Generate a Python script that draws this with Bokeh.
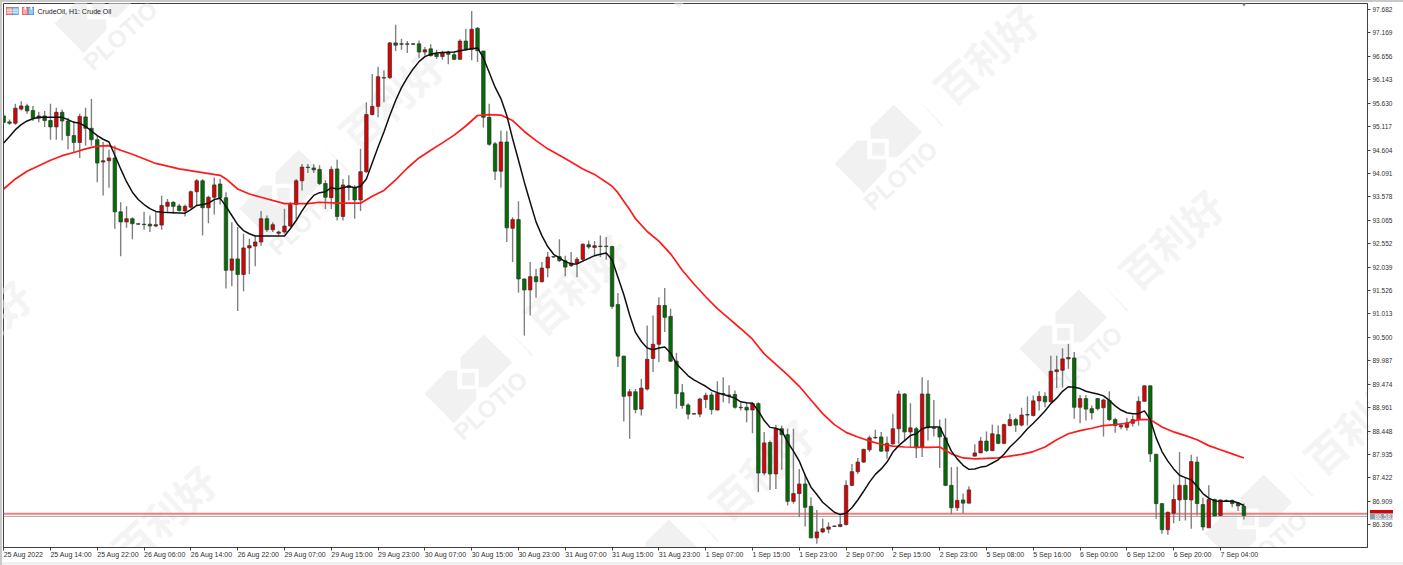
from bokeh.plotting import figure
from bokeh.models import (ColumnDataSource, FixedTicker, NumeralTickFormatter, Span, Label, LinearAxis,
                          PolyAnnotation, Range1d, InlineStyleSheet)
from bokeh.embed import file_html
from bokeh.resources import INLINE

opens = [95.35,95.22,95.19,95.50,95.57,95.47,95.30,95.35,95.25,95.11,
95.43,95.24,94.92,94.77,95.33,95.08,94.83,94.34,94.37,94.43,
93.25,93.03,93.10,92.99,92.98,92.98,92.94,92.96,93.37,93.46,
93.38,93.27,93.35,93.69,93.93,93.34,93.57,93.86,93.56,91.97,
92.22,91.88,92.46,92.50,92.59,93.10,92.86,92.78,92.81,92.94,
93.41,93.93,94.23,94.21,94.18,93.87,93.56,94.19,93.15,93.82,
93.78,93.51,94.13,95.38,95.56,96.18,96.19,96.95,96.93,96.92,
96.93,96.93,96.75,96.82,96.71,96.65,96.75,96.69,96.59,96.99,
96.81,97.27,96.77,95.32,94.74,94.14,94.78,92.89,93.08,91.78,
91.54,91.83,91.72,92.02,92.26,92.27,92.18,92.07,92.13,92.21,
92.53,92.47,92.50,92.50,92.49,91.22,90.09,89.22,89.31,88.93,
89.37,90.04,90.35,91.20,90.96,89.98,89.29,89.02,88.82,88.82,
89.14,89.24,88.91,89.27,89.24,89.25,88.97,88.97,88.91,89.05,
87.53,88.20,87.51,88.50,88.37,86.91,87.08,87.29,86.80,86.11,
86.24,86.30,86.36,86.36,86.40,87.26,87.56,87.77,88.04,88.30,
88.32,88.01,88.17,88.50,89.26,88.43,88.50,88.10,89.26,88.52,
88.52,88.30,87.26,86.77,86.94,86.87,87.90,87.97,88.23,88.02,
88.37,88.18,88.57,88.70,88.58,88.80,88.79,89.11,89.21,89.09,
89.75,89.78,90.03,90.05,88.97,89.16,88.94,89.16,88.96,89.12,
88.70,88.54,88.53,88.62,88.70,89.10,89.44,87.94,86.86,86.29,
86.65,86.94,87.26,86.94,87.77,86.84,86.33,86.95,86.60,86.93,
86.93,86.87,86.80]
closes = [95.21,95.19,95.52,95.57,95.46,95.30,95.35,95.25,95.11,95.43,
95.24,94.92,94.77,95.34,95.08,94.83,94.32,94.37,94.43,93.25,
93.03,93.10,92.99,92.98,92.97,92.94,92.97,93.39,93.46,93.37,
93.28,93.37,93.69,93.93,93.34,93.57,93.84,93.56,91.97,92.22,
91.88,92.46,92.51,92.59,93.10,92.86,92.97,92.81,92.94,93.41,
93.93,94.23,94.22,94.17,93.87,93.57,94.18,93.15,93.84,93.78,
93.51,94.13,95.38,95.56,96.21,96.19,96.95,96.90,96.92,96.93,
96.92,96.75,96.80,96.67,96.65,96.73,96.70,96.59,96.99,96.81,
97.25,96.78,95.32,94.73,94.14,94.78,92.90,93.08,91.78,91.54,
91.83,91.72,92.02,92.26,92.27,92.18,92.04,92.13,92.21,92.54,
92.48,92.51,92.49,92.49,91.18,90.09,89.21,89.31,88.92,89.39,
90.02,90.35,91.20,90.94,89.98,89.27,89.01,88.82,88.83,89.15,
89.23,88.92,89.27,89.26,89.23,88.97,88.96,88.91,89.05,87.53,
88.19,87.51,88.50,88.37,86.91,87.08,87.29,86.78,86.11,86.24,
86.31,86.35,86.37,86.40,87.26,87.56,87.77,88.05,88.30,88.31,
88.01,88.18,88.50,89.26,88.43,88.52,88.08,89.26,88.52,88.51,
88.32,87.26,86.77,86.93,86.87,87.16,87.97,88.23,88.02,88.39,
88.18,88.59,88.70,88.58,88.80,88.81,89.11,89.21,89.09,89.76,
89.79,90.03,90.06,88.97,89.16,88.93,88.85,88.94,89.13,88.70,
88.57,88.57,88.63,88.70,89.10,89.44,87.95,86.86,86.29,86.67,
86.95,87.26,86.95,87.78,86.86,86.35,86.95,86.59,86.94,86.92,
86.86,86.81,86.60]
highs = [95.38,95.27,95.62,95.67,95.62,95.57,95.44,95.46,95.62,95.53,
95.49,95.31,95.24,95.40,95.53,95.72,94.92,94.78,94.61,94.70,
93.46,93.37,93.13,93.00,93.25,93.17,93.24,93.60,93.53,93.48,
93.43,93.41,93.72,93.97,93.97,93.60,94.00,93.97,93.68,93.02,
92.92,92.77,92.66,92.73,93.27,93.17,93.02,92.84,93.32,93.46,
93.97,94.30,94.30,94.29,94.27,93.94,94.25,94.39,93.97,94.05,
93.83,94.63,95.65,96.27,96.43,96.35,96.97,97.35,97.04,96.99,
96.94,97.00,96.86,96.92,96.80,96.78,96.78,96.75,97.03,97.26,
97.65,97.30,96.78,95.62,94.78,95.03,95.02,93.13,93.48,91.79,
92.15,92.00,92.15,92.37,92.28,92.65,92.29,92.37,92.26,92.56,
92.62,92.61,92.73,92.70,92.51,91.47,90.10,89.37,89.37,89.59,
90.76,90.98,91.38,91.58,91.13,90.16,89.48,89.06,88.84,89.18,
89.29,89.30,89.54,89.63,89.45,89.34,89.08,89.08,89.08,89.08,
88.43,88.24,88.59,88.57,88.50,88.50,87.62,87.51,87.00,86.72,
86.53,86.45,86.38,86.60,87.37,87.73,87.86,88.06,88.35,88.48,
88.43,88.33,88.83,89.34,89.28,89.06,88.54,89.63,89.56,89.13,
88.70,88.73,87.66,87.67,87.08,87.24,88.16,88.32,88.44,88.59,
88.57,88.61,88.83,88.74,88.96,89.21,89.23,89.32,89.30,90.10,
90.10,90.26,90.36,90.18,89.24,89.24,89.01,89.17,89.16,89.32,
88.74,88.61,88.74,88.79,89.21,89.45,89.45,87.95,86.87,86.69,
87.28,87.99,87.44,87.93,87.89,86.99,87.26,86.97,86.95,86.95,
86.95,86.88,86.86]
lows = [95.18,95.16,95.16,95.47,95.40,95.24,95.21,95.11,94.83,94.83,
94.81,94.62,94.56,94.43,94.70,94.70,93.90,93.61,93.78,92.88,
92.28,92.90,92.65,92.97,92.86,92.81,92.91,92.86,93.25,93.21,
93.25,93.15,93.32,93.40,92.73,93.00,93.19,93.41,91.57,91.62,
91.08,91.51,91.89,92.06,92.51,92.81,92.81,92.72,92.77,92.91,
93.08,93.72,94.10,94.10,93.84,93.31,93.31,93.06,93.06,93.50,
93.10,93.27,94.10,95.36,95.32,95.65,96.16,96.77,96.80,96.73,
96.91,96.62,96.67,96.65,96.60,96.58,96.48,96.57,96.58,96.78,
96.57,96.53,95.10,94.70,93.95,93.78,92.59,92.15,91.48,90.54,
90.98,91.37,91.70,91.82,92.25,92.15,91.84,92.04,91.82,92.17,
92.44,92.30,92.26,92.20,91.13,89.85,88.66,88.28,88.84,88.79,
89.34,89.74,89.96,90.62,89.96,88.94,88.94,88.71,88.81,88.75,
88.95,88.81,88.90,89.08,89.05,88.94,88.90,88.64,88.40,87.11,
87.48,87.16,87.18,87.60,86.82,86.86,86.56,86.36,86.10,85.98,
86.21,86.21,86.35,86.34,86.38,87.24,87.51,87.75,87.99,88.28,
87.99,87.84,88.15,88.17,88.24,88.10,87.86,87.88,88.24,88.33,
87.64,87.24,86.62,86.70,86.64,86.86,87.89,87.97,87.99,88.01,
88.16,88.16,88.55,88.43,88.55,88.57,88.77,88.90,88.97,89.08,
89.39,89.40,89.81,88.72,88.62,88.68,88.70,88.90,88.33,88.67,
88.41,88.49,88.46,88.55,88.57,89.10,87.77,86.53,86.20,86.18,
86.43,86.48,86.49,86.31,86.60,86.27,86.33,86.59,86.59,86.91,
86.78,86.70,86.51]

fast_bar = [0,1,2,3,4,5,6,8,10,11,12,13,14,15,16,17,18,19,20,21,22,23,24,25,26,27,29,31,32,33,34,35,36,37,38,39,40,41,42,43,44,48,49,50,51,52,53,54,55,56,57,58,59,60,61,62,63,64,65,66,67,68,69,70,71,72,73,74,75,77,78,79,80,81,82,83,84,85,86,87,88,89,90,91,92,93,94,95,96,97,98,99,100,101,102,103,104,105,106,107,108,109,110,111,112,113,114,115,116,117,118,119,120,121,122,123,124,125,126,127,128,129,130,131,132,133,134,135,136,137,138,139,140,141,142,143,144,145,146,147,148,149,150,151,152,153,154,155,156,157,158,160,161,162,163,164,165,166,167,168,169,170,171,172,173,174,175,176,177,178,179,180,181,182,183,184,185,186,187,188,189,190,191,192,193,194,195,196,197,198,199,200,201,202,203,204,205,206,207,208,209,210,211,212]
fast_ma = [94.76,94.90,95.05,95.16,95.24,95.29,95.32,95.32,95.32,95.27,95.21,95.19,95.12,95.02,94.92,94.84,94.78,94.49,94.19,93.91,93.68,93.52,93.41,93.32,93.26,93.24,93.23,93.22,93.30,93.39,93.41,93.44,93.52,93.55,93.37,93.17,92.97,92.84,92.77,92.72,92.72,92.72,92.88,93.06,93.27,93.46,93.61,93.67,93.69,93.78,93.75,93.78,93.81,93.78,93.81,93.97,94.32,94.67,95.00,95.36,95.69,95.97,96.19,96.38,96.54,96.65,96.70,96.73,96.74,96.75,96.78,96.80,96.82,96.84,96.62,96.30,95.98,95.73,95.36,94.85,94.38,93.90,93.46,93.03,92.73,92.49,92.32,92.24,92.16,92.11,92.11,92.17,92.23,92.29,92.32,92.35,92.20,91.82,91.44,90.99,90.61,90.41,90.27,90.23,90.27,90.29,90.16,89.92,89.79,89.66,89.57,89.50,89.43,89.34,89.29,89.25,89.21,89.17,89.09,89.07,89.06,88.89,88.68,88.53,88.51,88.46,88.21,88.01,87.79,87.48,87.22,87.06,86.89,86.78,86.67,86.62,86.65,86.77,86.94,87.13,87.33,87.50,87.62,87.77,87.99,88.13,88.24,88.35,88.39,88.50,88.54,88.54,88.28,88.01,87.84,87.70,87.61,87.62,87.66,87.68,87.75,87.82,87.94,88.10,88.22,88.35,88.50,88.62,88.75,88.89,89.05,89.17,89.32,89.42,89.41,89.38,89.32,89.29,89.26,89.22,89.12,89.00,88.91,88.85,88.83,88.83,88.89,88.70,88.30,88.00,87.79,87.62,87.48,87.43,87.38,87.24,87.08,86.98,86.92,86.91,86.91,86.91,86.88,86.82]

slow_bar = [0,2,4,6,8,10,12,14,16,18,20,22,26,30,34,37,38,40,42,44,48,52,54,57,61,63,65,67,69,71,73,75,77,79,81,83,85,87,89,91,93,95,97,99,101,103,104,105,106,107,108,110,112,114,116,118,120,122,124,126,128,130,132,134,136,138,140,142,144,146,148,150,152,154,158,160,162,164,166,170,172,174,176,178,180,182,184,186,188,190,192,194,196,198,200,202,204,206,208,210,212]
slow_ma = [93.75,93.97,94.14,94.26,94.38,94.48,94.55,94.63,94.69,94.70,94.60,94.51,94.31,94.19,94.11,94.05,93.97,93.75,93.64,93.57,93.43,93.43,93.46,93.44,93.44,93.59,93.72,93.95,94.21,94.43,94.60,94.76,94.93,95.13,95.36,95.38,95.37,95.25,95.01,94.81,94.63,94.49,94.34,94.19,94.07,93.90,93.81,93.67,93.48,93.30,93.10,92.82,92.61,92.33,91.97,91.67,91.39,91.13,90.91,90.69,90.46,90.14,89.91,89.68,89.43,89.13,88.83,88.59,88.42,88.32,88.23,88.16,88.12,88.10,88.09,88.10,87.95,87.86,87.84,87.86,87.90,87.94,88.00,88.10,88.26,88.39,88.46,88.51,88.57,88.59,88.62,88.70,88.70,88.54,88.43,88.35,88.26,88.13,88.04,87.95,87.86]

x_tick_bars = [0,8,16,24,32,40,48,56,64,72,80,88,96,104,112,120,128,136,144,152,160,168,176,184,192,200,208]
x_tick_labels = ["25 Aug 2022","25 Aug 14:00","25 Aug 22:00","26 Aug 06:00","26 Aug 14:00","26 Aug 22:00",
"29 Aug 07:00","29 Aug 15:00","29 Aug 23:00","30 Aug 07:00","30 Aug 15:00","30 Aug 23:00","31 Aug 07:00",
"31 Aug 15:00","31 Aug 23:00","1 Sep 07:00","1 Sep 15:00","1 Sep 23:00","2 Sep 07:00","2 Sep 15:00",
"2 Sep 23:00","5 Sep 08:00","5 Sep 16:00","6 Sep 00:00","6 Sep 12:00","6 Sep 20:00","7 Sep 04:00"]
y_ticks = [97.682,97.169,96.656,96.143,95.630,95.117,94.604,94.091,93.578,93.065,92.552,92.039,91.526,91.013,
90.500,89.987,89.474,88.961,88.448,87.935,87.422,86.909,86.396]
ask_price = 86.64
bid_price = 86.581
symbol_text = "CrudeOil, H1:  Crude Oil"

W, H = 1403, 565
F_L, F_R, F_T, F_B = 3, 1367, 3, 547
X0 = -0.03
X1 = 233.13
Y1 = 97.813
Y0 = 85.899
FONT = "Liberation Sans"

page_css = InlineStyleSheet(css=""":host {background:
linear-gradient(#e00000,#e00000) 1370px 509.5px/23px 3px no-repeat,
linear-gradient(#8e9ba8,#8e9ba8) 1370px 512px/23px 7.5px no-repeat, #ffffff;}
:host::after {content:""; position:absolute; left:0; top:0; right:0; bottom:0; pointer-events:none;
background: linear-gradient(#c8c8c8,#c8c8c8) 0 0/2px 100% no-repeat,
linear-gradient(#c8c8c8,#c8c8c8) 0 0/100% 2px no-repeat,
linear-gradient(#f0f0f0,#f0f0f0) 0 562px/100% 3px no-repeat;}""")

p = figure(width=W, height=H, output_backend="svg", toolbar_location=None,
           x_range=Range1d(X0, X1), y_range=Range1d(Y0, Y1), y_axis_location="right",
           min_border_left=F_L, min_border_right=W-F_R, min_border_top=F_T, min_border_bottom=H-F_B,
           background_fill_color="white", border_fill_color=None, outline_line_color="#404040",
           stylesheets=[page_css])
p.grid.visible = False

def px(x):
    return X0 + (x - F_L) / (F_R - F_L) * (X1 - X0)
def py(y):
    return Y1 - (y - F_T) / (F_B - F_T) * (Y1 - Y0)
def panel(l, r, t, b, c, level="overlay"):
    p.add_layout(PolyAnnotation(xs=[px(l), px(r), px(r), px(l)], ys=[py(t), py(t), py(b), py(b)],
                                fill_color=c, fill_alpha=1, line_color=None, level=level))

# watermark
WM = "#f1f1f1"
UPPER = [(-14,-21),(9.3,-44),(37.7,-16.3),(12.7,8.7),(4.3,8.7),(4.3,-9.7),(-14,-9.7)]
LOWER = [(-50,15.3),(-27.3,-8),(-17.3,-8),(-17.3,10.7),(1.7,10.7),(1.7,21.3),(-20.7,44.7)]
SQUARE = [(-12.3,-5.7),(0.3,-5.7),(0.3,7),(-12.3,7)]
anchors = [(699,-37),(884,148),(1069,333),(1254,518),(104,8),(289,193),(474,378),(659,563),(-123,424),(62,609)]
for ax, ay in anchors:
    for shape in (UPPER, LOWER, SQUARE):
        p.add_layout(PolyAnnotation(xs=[px(ax+a) for a, b in shape], ys=[py(ay+b) for a, b in shape],
                                    fill_color=WM, fill_alpha=1, line_color=None, level="underlay"))
    if 0 < ax + 16 < W and 0 < ay + 27 < H - 10:
        p.add_layout(Label(x=px(ax+16), y=py(ay+27), text="PLOTIO", angle=42, angle_units="deg",
                           text_font=FONT, text_font_style="bold", text_font_size="24px", text_color=WM,
                           text_align="center", text_baseline="middle", level="underlay"))
    if -40 < ax + 101 < W + 40 and 0 < ay - 95 < H:
        p.add_layout(Label(x=px(ax+101), y=py(ay-95), text="百利好", angle=42, angle_units="deg",
                           text_font="Noto Sans CJK SC", text_font_style="bold", text_font_size="41px", text_color="#f4f4f4",
                           text_align="center", text_baseline="middle", level="underlay"))
    p.add_layout(PolyAnnotation(xs=[px(ax+31), px(ax+32), px(ax+58.7), px(ax+57.7)],
                                ys=[py(ay-50.7), py(ay-49.7), py(ay-23), py(ay-22)],
                                fill_color="#f0f0f0", fill_alpha=1, line_color=None, level="underlay"))

# price lines
p.add_layout(Span(location=ask_price, dimension="width", line_color="#f08080", line_width=2, level="underlay"))
p.add_layout(Span(location=bid_price, dimension="width", line_color="#a0a4a8", line_width=1, level="underlay"))

bars = list(range(len(opens)))
src = ColumnDataSource(dict(
    x=bars, o=opens, c=closes, h=highs, l=lows,
    top=[max(a, b) for a, b in zip(opens, closes)],
    bottom=[min(a, b) for a, b in zip(opens, closes)],
    color=["#e00000" if c >= o else "#007000" for o, c in zip(opens, closes)],
))
p.segment("x", "h", "x", "l", source=src, line_color="#808080", line_width=1.4)
p.vbar("x", 0.6, "top", "bottom", source=src, fill_color="color", line_color="#303030", line_width=0.7)

p.line(slow_bar, slow_ma, line_color="#ff1a1a", line_width=1.7)
p.line(fast_bar, fast_ma, line_color="#101010", line_width=1.5)

# axes
xa = p.xaxis[0]
xa.ticker = FixedTicker(ticks=x_tick_bars)
xa.major_label_overrides = {t: s for t, s in zip(x_tick_bars, x_tick_labels)}
xa.major_label_orientation = -0.0001   # a slight angle makes the labels start at their tick
xa.major_label_text_font = FONT
xa.major_label_text_font_size = "7px"
xa.major_label_text_color = "#303030"
xa.major_label_standoff = 4
xa.major_tick_in = 0
xa.major_tick_out = 3
xa.minor_tick_line_color = None
xa.axis_line_color = "#404040"
xa.major_tick_line_color = "#404040"

ya = p.yaxis[0]
ya.ticker = FixedTicker(ticks=y_ticks)
ya.formatter = NumeralTickFormatter(format="0.000")
ya.major_label_text_font = FONT
ya.major_label_text_font_size = "6.5px"
ya.major_label_text_color = "#303030"
ya.major_label_standoff = 2
ya.major_tick_in = 0
ya.major_tick_out = 3
ya.minor_tick_line_color = None
ya.axis_line_color = "#404040"
ya.major_tick_line_color = "#404040"

# the current price, in white on its tag beside the price axis
tag = LinearAxis(ticker=FixedTicker(ticks=[bid_price]), formatter=NumeralTickFormatter(format="0.000"))
tag.major_label_text_font = FONT
tag.major_label_text_font_size = "6.5px"
tag.major_label_text_color = "white"
tag.major_label_standoff = -21
tag.major_tick_in = 0
tag.major_tick_out = 0
tag.major_tick_line_color = None
tag.minor_tick_line_color = None
tag.axis_line_color = None
p.add_layout(tag, "right")

# shift marker
p.add_layout(PolyAnnotation(xs=[px(1240), px(1247), px(1243.5)], ys=[py(1), py(1), py(6)],
                            fill_color="#808080", fill_alpha=1, line_color=None))

# symbol caption and its two small icons
for l, r, c, e in [(6, 11.5, "#f6a8a8", "#d04040"), (12, 17.5, "#9cc8f0", "#3070c0"),
                   (22, 27, "#f6a8a8", "#d04040"), (28, 33, "#9cc8f0", "#3070c0")]:
    panel(l - 0.5, r + 0.5, 6.5, 14.5, e)
    panel(l, r, 7, 14, c)
panel(6, 17.5, 9.2, 9.9, "#ffffff")
panel(6, 17.5, 11.4, 12.1, "#ffffff")
panel(24, 25.5, 6.5, 9, "#ffffff")
panel(30, 31.5, 6.5, 9, "#ffffff")
p.add_layout(Label(x=px(37), y=py(10.5), text=symbol_text, text_font=FONT, text_font_size="7px",
                   text_color="#202020", text_align="left", text_baseline="middle"))

open("out.html", "w").write(file_html(p, INLINE))
